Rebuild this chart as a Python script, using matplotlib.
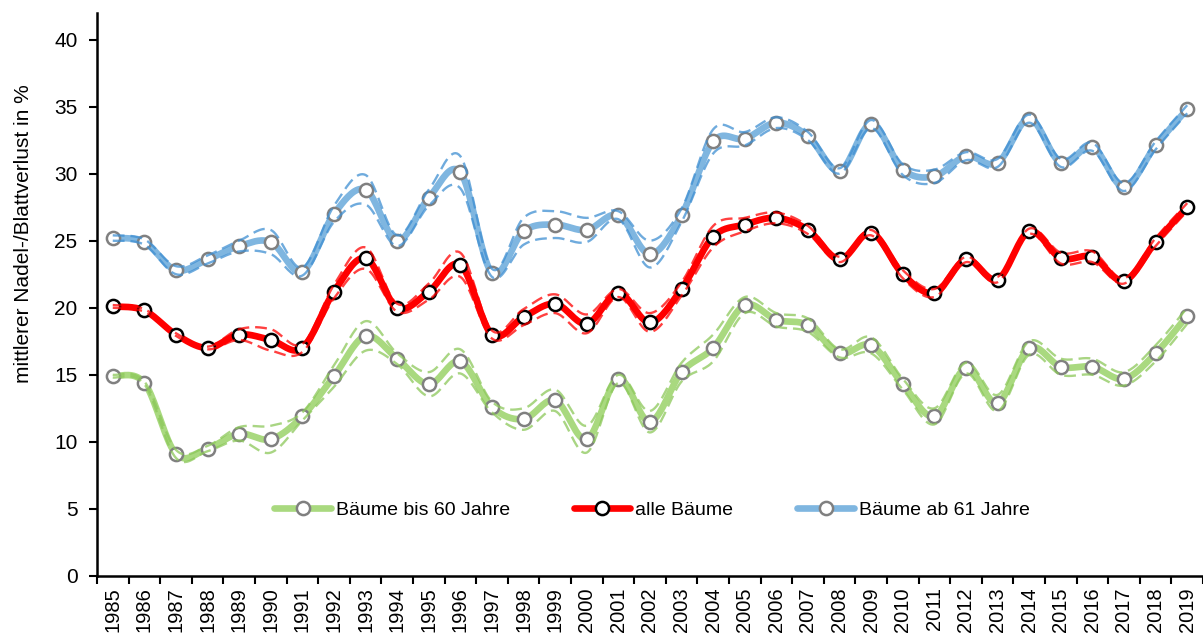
import numpy as np
import matplotlib
matplotlib.use('Agg')
import matplotlib.pyplot as plt

plt.rcParams['font.family'] = ['Liberation Sans', 'DejaVu Sans']

years = [str(y) for y in range(1985, 2020)]

# Bäume bis 60 Jahre
green_mid = [14.9, 14.4, 9.1, 9.5, 10.6, 10.2, 11.9, 14.9, 17.9, 16.2, 14.3, 16.0, 12.6, 11.7, 13.1, 10.2, 14.7, 11.5,
             15.2, 17.0, 20.2, 19.1, 18.7, 16.6, 17.2, 14.3, 11.9, 15.5, 12.9, 17.0, 15.6, 15.6, 14.7, 16.6, 19.4]
green_up = [15.0, 14.5, 9.4, 9.7, 11.1, 11.2, 12.2, 15.7, 19.0, 16.6, 15.2, 16.9, 13.0, 12.5, 13.9, 11.2, 15.0, 12.3,
            15.9, 18.0, 20.8, 19.6, 19.2, 16.9, 17.8, 14.7, 12.5, 15.9, 13.5, 17.5, 16.2, 16.2, 15.2, 17.2, 20.0]
green_lo = [14.8, 14.3, 8.8, 9.3, 10.1, 9.2, 11.6, 14.1, 16.8, 15.8, 13.4, 15.1, 12.2, 10.9, 12.3, 9.2, 14.4, 10.7,
            14.5, 16.0, 19.6, 18.6, 18.2, 16.3, 16.6, 13.9, 11.3, 15.1, 12.3, 16.5, 15.0, 15.0, 14.2, 16.0, 18.8]

# alle Bäume
red_mid = [20.1, 19.8, 18.0, 17.0, 18.0, 17.6, 17.0, 21.2, 23.7, 20.0, 21.2, 23.2, 18.0, 19.3, 20.3, 18.8, 21.1, 18.9,
           21.4, 25.3, 26.2, 26.7, 25.8, 23.6, 25.6, 22.5, 21.1, 23.6, 22.1, 25.7, 23.7, 23.8, 22.0, 24.9, 27.5]
red_up = [20.2, 19.9, 18.1, 17.1, 18.4, 18.4, 17.3, 21.7, 24.5, 20.3, 21.8, 24.1, 18.3, 19.9, 21.0, 19.5, 21.4, 19.6,
          21.9, 26.1, 26.7, 27.1, 26.1, 23.8, 25.8, 22.8, 21.4, 23.8, 22.3, 25.9, 24.1, 24.2, 22.2, 25.2, 27.8]
red_lo = [20.0, 19.7, 17.9, 16.9, 17.6, 16.8, 16.7, 20.7, 22.9, 19.7, 20.6, 22.3, 17.7, 18.7, 19.6, 18.1, 20.8, 18.2,
          20.9, 24.5, 25.7, 26.3, 25.5, 23.4, 25.4, 22.2, 20.8, 23.4, 21.9, 25.5, 23.3, 23.4, 21.8, 24.6, 27.2]

# Bäume ab 61 Jahre
blue_mid = [25.2, 24.9, 22.8, 23.6, 24.6, 24.9, 22.7, 27.0, 28.8, 25.0, 28.2, 30.1, 22.6, 25.7, 26.2, 25.8, 26.9, 24.0,
            26.9, 32.4, 32.6, 33.8, 32.8, 30.2, 33.7, 30.3, 29.8, 31.3, 30.8, 34.1, 30.8, 32.0, 29.0, 32.1, 34.8]
blue_up = [25.4, 25.1, 23.1, 23.9, 25.0, 25.8, 23.0, 27.6, 29.9, 25.4, 28.8, 31.3, 22.9, 26.7, 27.2, 26.7, 27.2, 25.0,
           27.4, 33.3, 33.1, 34.2, 33.1, 30.4, 34.0, 30.7, 30.3, 31.6, 31.1, 34.4, 31.1, 32.3, 29.3, 32.4, 35.1]
blue_lo = [25.0, 24.7, 22.5, 23.3, 24.2, 24.0, 22.4, 26.4, 27.7, 24.6, 27.6, 28.9, 22.3, 24.7, 25.2, 24.9, 26.6, 23.0,
           26.4, 31.5, 32.1, 33.4, 32.5, 30.0, 33.4, 29.9, 29.3, 31.0, 30.5, 33.8, 30.5, 31.7, 28.7, 31.8, 34.5]

N = 20  # samples per segment of the smoothed line


def smooth(vals):
    # Excel-like smoothed line: Bezier segments with Catmull-Rom control points
    p = np.array(vals, dtype=float)
    x = np.arange(len(p), dtype=float)
    pts = np.column_stack([x, p])
    ext = np.vstack([pts[0], pts, pts[-1]])
    t = np.linspace(0, 1, N, endpoint=False)[:, None]
    out = []
    for i in range(len(pts) - 1):
        p0, p1, p2, p3 = ext[i], ext[i + 1], ext[i + 2], ext[i + 3]
        c1 = p1 + (p2 - p0) / 6
        c2 = p2 - (p3 - p1) / 6
        seg = ((1 - t) ** 3) * p1 + 3 * ((1 - t) ** 2) * t * c1 + 3 * (1 - t) * t ** 2 * c2 + t ** 3 * p2
        out.append(seg)
    out.append(pts[-1][None, :])
    out = np.vstack(out)
    return out[:, 0], out[:, 1]


fig = plt.figure(figsize=(12.03, 6.34), dpi=100)
ax = fig.add_axes([0.0806, 0.0915, 0.9194, 0.8885])

series = [
    ('Bäume bis 60 Jahre', green_mid, green_lo, green_up, '#a9d97f', '#8cc85a', '#808080'),
    ('alle Bäume', red_mid, red_lo, red_up, '#ff0000', '#ff0000', '#000000'),
    ('Bäume ab 61 Jahre', blue_mid, blue_lo, blue_up, '#7fb6e0', '#3f8fd2', '#808080'),
]

for label, mid, lo, up, col, dcol, mec in series:
    for band in (lo, up):
        bx, by = smooth(band)
        ax.plot(bx, by, color=dcol, lw=1.7, dashes=(5, 2.5), alpha=0.75, zorder=3)
    sx, sy = smooth(mid)
    ax.plot(sx, sy, color=col, lw=4.8, solid_capstyle='round', zorder=2,
            marker='o', markevery=slice(0, None, N), markersize=9.5,
            markerfacecolor='white', markeredgecolor=mec, markeredgewidth=1.8, label=label)

ax.set_xlim(-0.5, len(years) - 0.5)
ax.set_ylim(0, 42)
ax.set_yticks(range(0, 41, 5))
ax.set_xticks(range(len(years)))
ax.set_xticklabels(years, rotation=90)
ax.set_xticks(np.arange(-0.5, len(years), 1), minor=True)
ax.tick_params(axis='x', which='major', length=0, pad=8, labelsize=14.5)
ax.tick_params(axis='x', which='minor', length=6, width=1.5, direction='out')
ax.tick_params(axis='y', length=6, width=1.5, direction='out', pad=8, labelsize=15)

for s in ('top', 'right'):
    ax.spines[s].set_visible(False)
for s in ('left', 'bottom'):
    ax.spines[s].set_linewidth(1.8)

ax.set_ylabel('mittlerer Nadel-/Blattverlust in %', fontsize=15)
ax.yaxis.set_label_coords(-0.058, 0.607)

fig.legend(loc='center', bbox_to_anchor=(0.542, 0.196), ncol=3, frameon=False,
           fontsize=14, handlelength=2.9, handletextpad=0.25, columnspacing=3.3)

fig.savefig('out.png', dpi=100)
